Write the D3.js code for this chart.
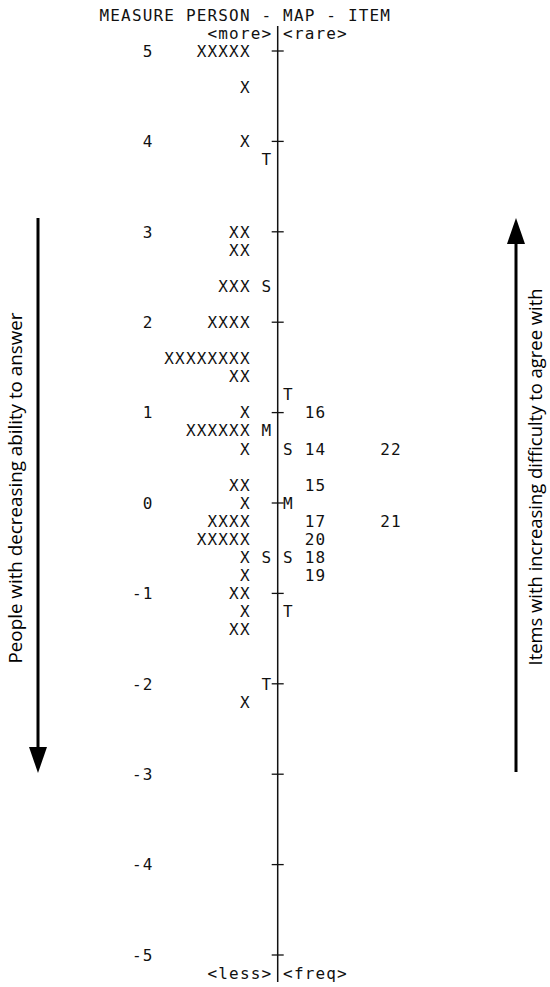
<!DOCTYPE html>
<html>
<head>
<meta charset="utf-8">
<script src="https://cdn.jsdelivr.net/npm/d3@7"></script>
<style>
html,body{margin:0;padding:0;background:#fff;}
svg{display:block;}
</style>
</head>
<body>
<script>
// ---- data ----
const measureTicks = [5, 4, 3, 2, 1, 0, -1, -2, -3, -4, -5];
const personMeasures = [5.0, 4.6, 4.0, 3.0, 2.8, 2.4, 2.0, 1.6, 1.4, 1.0, 0.8, 0.6, 0.2, 0.0, -0.2, -0.4, -0.6, -0.8, -1.0, -1.2, -1.4, -2.2];
const personCounts   = [5,   1,   1,   2,   2,   3,   4,   8,   2,   1,   6,   1,   2,   1,   4,    5,    1,    1,    2,    1,    2,    1];
const personMarkerLabels = ["T", "S", "M", "S", "T"];
const personMarkerMeasures = [3.8, 2.4, 0.8, -0.6, -2.0];
const itemMarkerLabels = ["T", "S", "M", "S", "T"];
const itemMarkerMeasures = [1.2, 0.6, 0.0, -0.6, -1.2];
const itemLabels   = ["16", "14", "22", "15", "17", "21", "20", "18", "19"];
const itemMeasures = [1.0, 0.6, 0.6, 0.2, -0.2, -0.2, -0.4, -0.6, -0.8];
const titleText = "MEASURE PERSON - MAP - ITEM";
const headerLeft = "<more>", headerRight = "<rare>";
const footerLeft = "<less>", footerRight = "<freq>";
const leftArrowText = "People  with decreasing ability to answer";
const rightArrowText = "Items with increasing difficulty to agree with";

// ---- layout ----
const W = 550, H = 987;
const svg = d3.select("body").append("svg").attr("width", W).attr("height", H);

const y = d3.scaleLinear().domain([5, -5]).range([51, 955]);
const axisX = 277.7, cw = 10.8;
const col = d3.scaleLinear().domain([0, 1]).range([axisX - cw / 2, axisX + cw / 2]); // left edge of char column k
const fontSize = 16;
const mono = "'DejaVu Sans Mono', monospace";
const lsp = cw - 0.6021 * fontSize;

function monoText(str, k, yy) {
  return svg.append("text")
    .attr("x", col(k))
    .attr("y", yy)
    .attr("dy", "0.36em")
    .style("font-family", mono)
    .style("font-size", fontSize + "px")
    .style("letter-spacing", lsp + "px")
    .attr("fill", "#111")
    .text(str);
}

// title and headers
monoText(titleText, -16, y(5.4));
monoText(headerLeft, -6, y(5.2));
monoText(headerRight, 1, y(5.2));
monoText(footerLeft, -6, y(-5.2));
monoText(footerRight, 1, y(-5.2));

// axis line
svg.append("line")
  .attr("x1", axisX).attr("x2", axisX)
  .attr("y1", y(5.2) - 7).attr("y2", y(-5.2) + 9)
  .attr("stroke", "#111").attr("stroke-width", 1.5);

// ticks
svg.selectAll(".tick").data(measureTicks).enter().append("line")
  .attr("x1", axisX - 6).attr("x2", axisX + 6)
  .attr("y1", d => y(d)).attr("y2", d => y(d))
  .attr("stroke", "#111").attr("stroke-width", 1.3);

// tick labels (right-aligned at column -12)
measureTicks.forEach(d => {
  const s = String(d);
  monoText(s, -12 - (s.length - 1), y(d));
});

// person X rows
personMeasures.forEach((m, i) => {
  const n = personCounts[i];
  monoText("X".repeat(n), -3 - (n - 1), y(m));
});

// person markers
personMarkerMeasures.forEach((m, i) => monoText(personMarkerLabels[i], -1, y(m)));

// item markers
itemMarkerMeasures.forEach((m, i) => monoText(itemMarkerLabels[i], 1, y(m)));

// items: place multiple per row
const rowCount = {};
itemMeasures.forEach((m, i) => {
  const key = m.toFixed(1);
  const idx = rowCount[key] || 0;
  rowCount[key] = idx + 1;
  monoText(itemLabels[i], 3 + 7 * idx, y(m));
});

// arrows
function arrow(x, yFrom, yTo) {
  const dir = yTo > yFrom ? 1 : -1;
  const headLen = 26, headHalf = 9;
  svg.append("line")
    .attr("x1", x).attr("x2", x)
    .attr("y1", yFrom).attr("y2", yTo - dir * (headLen - 2))
    .attr("stroke", "#000").attr("stroke-width", 3);
  svg.append("path")
    .attr("d", `M${x - headHalf},${yTo - dir * headLen}L${x + headHalf},${yTo - dir * headLen}L${x},${yTo}Z`)
    .attr("fill", "#000");
}
arrow(38, 218, 773);
arrow(516, 772, 218);

svg.append("text")
  .attr("transform", "translate(16,488) rotate(-90)")
  .attr("text-anchor", "middle").attr("dy", "0.35em")
  .attr("textLength", 351).attr("lengthAdjust", "spacingAndGlyphs")
  .style("font-family", "'Open Sans', sans-serif").style("font-size", "18px")
  .attr("fill", "#000")
  .text(leftArrowText);
svg.append("text")
  .attr("transform", "translate(536,477) rotate(-90)")
  .attr("text-anchor", "middle").attr("dy", "0.35em")
  .attr("textLength", 377).attr("lengthAdjust", "spacingAndGlyphs")
  .style("font-family", "'Open Sans', sans-serif").style("font-size", "18px")
  .attr("fill", "#000")
  .text(rightArrowText);
</script>
</body>
</html>
